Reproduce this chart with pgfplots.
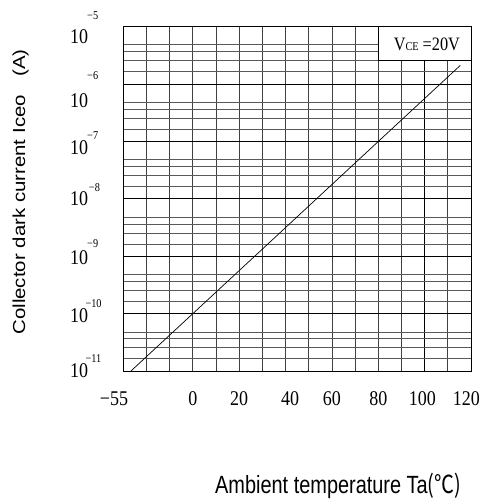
\documentclass[border=0pt]{standalone}
\usepackage{pgfplots}
\pgfplotsset{compat=1.18}
\usepackage{fontspec}
\setmainfont{Liberation Serif}
\newfontfamily\arial{Liberation Sans}
\newfontfamily\cjk{Noto Sans CJK SC}
\newcommand{\xl}[1]{\scalebox{0.86}[1]{\fontsize{21}{21}\selectfont #1}}
\newcommand{\yl}[3]{\scalebox{0.86}[1]{\fontsize{21}{21}\selectfont 10\rlap{\kern#3\raisebox{#1}[0pt][0pt]{\fontsize{12}{12}\selectfont −#2}}}}
\begin{document}
\begin{tikzpicture}
\path[use as bounding box] (-123.3bp,-133bp) rectangle (359.7bp,371bp);
\begin{axis}[
  at={(0,0)}, anchor=south west,
  scale only axis, width=347.7bp, height=344.3bp,
  ymode=log, log basis y=10,
  xmin=-30, xmax=120, ymin=1e-11, ymax=1e-5,
  axis line style={black, line width=1bp},
  major tick length=0pt, minor tick length=0pt,
  xtick={100}, xticklabels={},
  minor xtick={-20,-10,0,10,20,30,40,50,60,70,80,90,110},
  ytick={1e-11,1e-10,1e-9,1e-8,1e-7,1e-6,1e-5}, yticklabels={},
  minor ytick={1.64e-11,2.55e-11,3.65e-11,4.8e-11,
               1.64e-10,2.55e-10,3.65e-10,4.8e-10,
               1.64e-9,2.55e-9,3.65e-9,4.8e-9,
               1.64e-8,2.55e-8,3.65e-8,4.8e-8,
               1.64e-7,2.55e-7,3.65e-7,4.8e-7,
               1.66e-6,2.6e-6,3.65e-6,4.9e-6},
  xmajorgrids, xminorgrids, ymajorgrids, yminorgrids,
  major x grid style={black, line width=1bp},
  minor x grid style={black!75, line width=0.7bp},
  major y grid style={black, line width=0.8bp},
  minor y grid style={black!65, line width=0.7bp},
  extra x ticks={-30,0,20,42,60,80,99,118},
  extra x tick labels={\hspace*{-18.6bp}\xl{−55},\xl{0},\xl{20},\xl{40},\xl{60},\xl{80},\xl{100},\xl{120}},
  extra x tick style={grid=none, xticklabel style={anchor=north, inner sep=0pt, yshift=-20.7bp}},
  extra y ticks={6.81e-6,5.13e-7,7.85e-8,1e-8,9.31e-10,9.27e-11,1e-11},
  extra y tick labels={\yl{24bp}{5}{-1bp},\yl{27.7bp}{6}{-1bp},\yl{15bp}{7}{-1bp},\yl{14.3bp}{8}{1bp},\yl{17bp}{9}{-1bp},\yl{15bp}{10}{-3bp},\yl{15bp}{11}{-3bp}},
  extra y tick style={grid=none, yticklabel style={anchor=east, inner sep=0pt, xshift=-35bp}},
  xlabel={\scalebox{0.8}[1]{\arial\fontsize{25}{25}\selectfont Ambient temperature Ta{\cjk (℃)}}},
  xlabel style={at={(axis description cs:0.2637,0)}, anchor=base west, inner sep=0pt, yshift=-122bp},
  ylabel={\scalebox{1}[0.85]{\arial\fontsize{20.5}{20.5}\selectfont Collector dark current Iceo\hspace{0.9em}(A)}},
  ylabel style={at={(axis description cs:-0.295,0.52)}, anchor=center, inner sep=0pt},
]
\draw[black, line width=1bp, fill=white] (rel axis cs:0.7334,0.9033) rectangle (rel axis cs:1,1);
\node[anchor=base] at (rel axis cs:0.873,0.9323) {\scalebox{0.86}[1]{\fontsize{19}{19}\selectfont V{\fontsize{12}{12}\selectfont CE} =20V}};
\addplot[black, line width=0.7bp] coordinates {(-26.7,1e-11) (0,1e-10) (40,3.16e-9) (80,1e-7) (115.4,2.12e-6)};
\end{axis}
\end{tikzpicture}
\end{document}
